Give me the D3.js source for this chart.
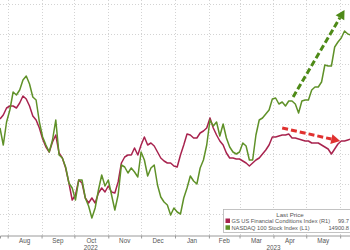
<!DOCTYPE html>
<html>
<head>
<meta charset="utf-8">
<script src="https://cdn.jsdelivr.net/npm/d3@7"></script>
<style>
  html, body { margin: 0; padding: 0; background: #fff; }
  svg { display: block; font-family: "Liberation Sans", Arial, sans-serif; }
</style>
</head>
<body>
<svg id="chartSVG" width="350" height="250"></svg>
<script>
/* ---------- Data ---------- */
// one sample every 3 days, Jul 25 2022 .. Jun 11 2023
const dates = [
  "2022-07-25","2022-07-28","2022-07-31","2022-08-03","2022-08-06","2022-08-09","2022-08-12","2022-08-15",
  "2022-08-18","2022-08-21","2022-08-24","2022-08-27","2022-08-30","2022-09-02","2022-09-05","2022-09-08",
  "2022-09-11","2022-09-14","2022-09-17","2022-09-20","2022-09-23","2022-09-26","2022-09-29","2022-10-02",
  "2022-10-05","2022-10-08","2022-10-11","2022-10-14","2022-10-17","2022-10-20","2022-10-23","2022-10-26",
  "2022-10-29","2022-11-01","2022-11-04","2022-11-07","2022-11-10","2022-11-13","2022-11-16","2022-11-19",
  "2022-11-22","2022-11-25","2022-11-28","2022-12-01","2022-12-04","2022-12-07","2022-12-10","2022-12-13",
  "2022-12-16","2022-12-19","2022-12-22","2022-12-25","2022-12-28","2022-12-31","2023-01-03","2023-01-06",
  "2023-01-09","2023-01-12","2023-01-15","2023-01-18","2023-01-21","2023-01-24","2023-01-27","2023-01-30",
  "2023-02-02","2023-02-05","2023-02-08","2023-02-11","2023-02-14","2023-02-17","2023-02-20","2023-02-23",
  "2023-02-26","2023-03-01","2023-03-04","2023-03-07","2023-03-10","2023-03-13","2023-03-16","2023-03-19",
  "2023-03-22","2023-03-25","2023-03-28","2023-03-31","2023-04-03","2023-04-06","2023-04-09","2023-04-12",
  "2023-04-15","2023-04-18","2023-04-21","2023-04-24","2023-04-27","2023-04-30","2023-05-03","2023-05-06",
  "2023-05-09","2023-05-12","2023-05-15","2023-05-18","2023-05-21","2023-05-24","2023-05-27","2023-05-30",
  "2023-06-02","2023-06-05","2023-06-08","2023-06-11"
];

// NASDAQ 100 Stock Index (left axis)
const nasdaq = [
  13040,12700,13160,13400,13760,13700,13800,14000,14080,13920,13660,13600,13160,12860,12700,12560,
  12800,13200,12500,12440,12260,11940,11840,11600,12000,12000,11640,11480,11240,11440,11800,12100,
  11880,12000,11700,11400,11700,12300,12260,12140,12240,12160,12060,12560,12400,12080,12240,12300,
  11900,11660,11560,11500,11300,11440,11360,11320,11640,11840,12080,11980,11920,12240,12400,12700,
  13200,13080,13160,12880,13120,12840,12660,12560,12520,12560,12740,12680,12400,12400,12900,13200,
  13240,13320,13400,13620,13640,13520,13560,13480,13580,13580,13520,13340,13580,13600,13600,13800,
  13860,13860,13960,14300,14280,14280,14660,14760,14840,14980,14920,14900
];

// GS US Financial Conditions Index (right axis, inverted)
const gsfci = [
  99.49,99.45,99.38,99.36,99.36,99.38,99.33,99.26,99.29,99.36,99.46,99.50,99.58,99.69,99.77,99.82,
  99.72,99.65,99.83,99.88,99.98,100.13,100.30,100.25,100.10,100.13,100.28,100.33,100.28,100.33,100.23,100.18,
  100.22,100.16,100.22,100.23,100.12,99.93,99.87,99.85,99.85,99.78,99.85,99.75,99.67,99.75,99.73,99.76,
  99.82,99.88,99.91,99.93,99.93,99.96,99.97,99.85,99.75,99.64,99.65,99.68,99.68,99.63,99.61,99.58,
  99.48,99.58,99.65,99.71,99.75,99.83,99.88,99.88,99.89,99.89,99.91,99.93,99.96,99.93,99.90,99.88,
  99.84,99.80,99.75,99.67,99.67,99.66,99.65,99.65,99.64,99.68,99.68,99.69,99.70,99.71,99.71,99.73,
  99.73,99.73,99.75,99.77,99.79,99.84,99.79,99.74,99.71,99.71,99.70,99.69
];

const monthTicks = ["2022-08-01","2022-09-01","2022-10-01","2022-11-01","2022-12-01","2023-01-01",
  "2023-02-01","2023-03-01","2023-04-01","2023-05-01","2023-06-01"];
const monthLabels = ["Aug","Sep","Oct","Nov","Dec","Jan","Feb","Mar","Apr","May"];
const yearLabels = [{ year: "2022", at: "2022-10-16" }, { year: "2023", at: "2023-04-01" }];
const gridValues = [11320, 11920, 12520, 13120, 13720, 14320, 14920, 15520];

// trend arrows: [date, value] start -> end
const greenArrow = { from: ["2023-04-19", 13660], to: ["2023-06-05", 15400], axis: "L" };
const redArrow = { from: ["2023-04-09", 99.58], to: ["2023-06-01", 99.71], axis: "R" };

const legendTitle = "Last Price";
const legendRows = [
  { name: "GS US Financial Conditions Index (R1)", last: "99.7", colour: "#a8234e" },
  { name: "NASDAQ 100 Stock Index (L1)", last: "14900.8", colour: "#5f9128" }
];

/* ---------- Scales ---------- */
const parse = d3.utcParse("%Y-%m-%d");
const plotBottom = 235;
const svg = d3.select("#chartSVG");

const x = d3.scaleUtc()
  .domain([parse("2022-07-25"), parse("2023-06-10")])
  .range([0, 350]);
const yL = d3.scaleLinear().domain([10900, 15600]).range([plotBottom, 0]);
const yR = d3.scaleLinear().domain([98.3, 100.65]).range([0, plotBottom]);

/* ---------- Grid ---------- */
const grid = svg.append("g").attr("stroke", "#c8c8c8").attr("stroke-width", 0.8)
  .attr("stroke-dasharray", "1,2");
grid.selectAll(".h").data(gridValues).enter().append("line")
  .attr("x1", 0).attr("x2", 350)
  .attr("y1", d => Math.round(yL(d)) + 0.5).attr("y2", d => Math.round(yL(d)) + 0.5);
grid.selectAll(".v").data(monthTicks).enter().append("line")
  .attr("x1", d => Math.round(x(parse(d))) + 0.5).attr("x2", d => Math.round(x(parse(d))) + 0.5)
  .attr("y1", 0).attr("y2", plotBottom);

/* ---------- X axis ---------- */
const xAxis = d3.axisBottom(x)
  .tickValues(monthTicks.map(parse))
  .tickSize(3)
  .tickFormat("");
const axisG = svg.append("g").attr("transform", "translate(0," + (plotBottom + 0.5) + ")").call(xAxis);
axisG.select(".domain").attr("stroke", "#9a9a9a");
axisG.selectAll(".tick line").attr("stroke", "#9a9a9a");

const labels = svg.append("g").attr("font-size", 6.3).attr("fill", "#555").attr("text-anchor", "middle");
monthLabels.forEach((m, i) => {
  const mid = (x(parse(monthTicks[i])) + x(parse(monthTicks[i + 1]))) / 2;
  labels.append("text").attr("x", mid).attr("y", 243).text(m);
});
yearLabels.forEach(d => {
  labels.append("text").attr("x", x(parse(d.at))).attr("y", 250).text(d.year);
});

/* ---------- Lines ---------- */
const redLine = d3.line().x((d, i) => x(parse(dates[i]))).y(d => yR(d));
const greenLine = d3.line().x((d, i) => x(parse(dates[i]))).y(d => yL(d));

svg.append("path").datum(gsfci)
  .attr("d", redLine).attr("fill", "none")
  .attr("stroke", legendRows[0].colour).attr("stroke-width", 1.5).attr("stroke-linejoin", "round");
svg.append("path").datum(nasdaq)
  .attr("d", greenLine).attr("fill", "none")
  .attr("stroke", legendRows[1].colour).attr("stroke-width", 1.5).attr("stroke-linejoin", "round");

/* ---------- Arrows ---------- */
var drawArrow = function(a, colour) {
  const ys = a.axis === "L" ? yL : yR;
  const x1 = x(parse(a.from[0])), y1 = ys(a.from[1]);
  const x2 = x(parse(a.to[0])), y2 = ys(a.to[1]);
  const ang = Math.atan2(y2 - y1, x2 - x1);
  const headLen = 9, headW = 5;
  const bx = x2 - headLen * Math.cos(ang), by = y2 - headLen * Math.sin(ang);
  svg.append("line")
    .attr("x1", x1).attr("y1", y1).attr("x2", bx).attr("y2", by)
    .attr("stroke", colour).attr("stroke-width", 3).attr("stroke-dasharray", "6,3");
  const px = -Math.sin(ang) * headW, py = Math.cos(ang) * headW;
  svg.append("path")
    .attr("d", "M" + x2 + "," + y2 + "L" + (bx + px) + "," + (by + py) + "L" + (bx - px) + "," + (by - py) + "Z")
    .attr("fill", colour);
};
drawArrow(greenArrow, "#4e8a17");
drawArrow(redArrow, "#e0312f");

/* ---------- Legend ---------- */
const legend = svg.append("g").attr("transform", "translate(223,209)");
legend.append("rect").attr("x", 0.5).attr("y", 0.5).attr("width", 140).attr("height", 23)
  .attr("fill", "#fff").attr("stroke", "#b5b5b5").attr("stroke-width", 0.8);
legend.append("text").attr("x", 67).attr("y", 7.5).attr("font-size", 6.2).attr("fill", "#555")
  .attr("text-anchor", "middle").text(legendTitle);
legendRows.forEach((r, i) => {
  const ry = 14 + i * 6.8;
  legend.append("rect").attr("x", 2.5).attr("y", ry - 4.5).attr("width", 4.5).attr("height", 4.5).attr("fill", r.colour);
  legend.append("text").attr("x", 8.5).attr("y", ry).attr("font-size", 5.7).attr("fill", "#555")
    .text(r.name);
  legend.append("text").attr("x", 126).attr("y", ry).attr("font-size", 5.7).attr("fill", "#555")
    .attr("text-anchor", "end").text(r.last);
});
</script>
</body>
</html>
